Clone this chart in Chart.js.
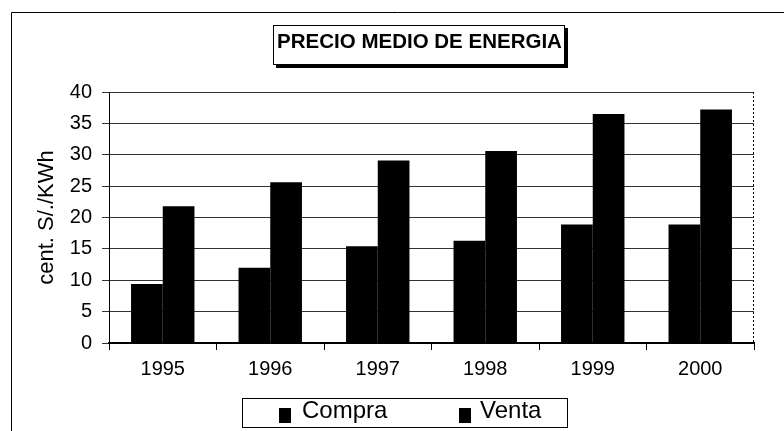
<!DOCTYPE html>
<html>
<head>
<meta charset="utf-8">
<script src="https://cdn.jsdelivr.net/npm/chart.js@4/dist/chart.umd.min.js"></script>
<style>
  html, body { margin: 0; padding: 0; background: #fff; }
  #wrap { width: 784px; height: 431px; }
</style>
</head>
<body>
<div id="wrap"><canvas id="c" width="784" height="431"></canvas></div>
<script>
const categories = ['1995', '1996', '1997', '1998', '1999', '2000'];
const compra = [9.4, 12.0, 15.4, 16.3, 18.9, 18.9];
const venta = [21.8, 25.6, 29.1, 30.6, 36.5, 37.2];
const seriesNames = ['Compra', 'Venta'];
const titleText = 'PRECIO MEDIO DE ENERGIA';
const yTitle = 'cent. S/./KWh';
const yMax = 40;
const yStep = 5;

const FONT = '"Liberation Sans", Arial, sans-serif';

const decor = {
  id: 'decor',
  afterDraw(chart) {
    const ctx = chart.ctx;
    const ca = chart.chartArea;
    ctx.save();
    // outer frame (top and left edges)
    ctx.strokeStyle = '#000';
    ctx.lineWidth = 1;
    ctx.beginPath();
    ctx.moveTo(11.5, 431);
    ctx.lineTo(11.5, 12.5);
    ctx.lineTo(784, 12.5);
    ctx.stroke();

    // right dotted border of plot area
    ctx.setLineDash([2, 2]);
    ctx.beginPath();
    ctx.moveTo(Math.round(ca.right) - 0.5, ca.top);
    ctx.lineTo(Math.round(ca.right) - 0.5, ca.bottom);
    ctx.stroke();
    ctx.setLineDash([]);

    // title box with shadow
    ctx.fillStyle = '#000';
    ctx.fillRect(276, 28, 292, 40);
    ctx.fillStyle = '#fff';
    ctx.fillRect(273, 25, 292, 40);
    ctx.strokeStyle = '#000';
    ctx.lineWidth = 1;
    ctx.strokeRect(273.5, 25.5, 291, 39);
    ctx.fillStyle = '#000';
    ctx.font = 'bold 20.5px ' + FONT;
    ctx.textAlign = 'center';
    ctx.textBaseline = 'alphabetic';
    ctx.fillText(titleText, 419.5, 48);

    // legend box
    ctx.fillStyle = '#fff';
    ctx.fillRect(242, 398, 326, 30);
    ctx.strokeStyle = '#000';
    ctx.strokeRect(242.5, 398.5, 325, 29);
    const ds = chart.data.datasets;
    const items = [
      { sq: 279, tx: 302 },
      { sq: 459, tx: 480 }
    ];
    ctx.font = '24px ' + FONT;
    ctx.textAlign = 'left';
    items.forEach((it, i) => {
      ctx.fillStyle = ds[i].backgroundColor;
      ctx.fillRect(it.sq, 408, 12, 15);
      ctx.fillStyle = '#000';
      ctx.fillText(ds[i].label, it.tx, 418);
    });
    ctx.restore();
  }
};

new Chart(document.getElementById('c'), {
  type: 'bar',
  data: {
    labels: categories,
    datasets: [
      { label: seriesNames[0], data: compra, backgroundColor: '#000', borderWidth: 0 },
      { label: seriesNames[1], data: venta, backgroundColor: '#000', borderWidth: 0 }
    ]
  },
  options: {
    responsive: false,
    animation: false,
    events: [],
    layout: { padding: { left: 11, right: 30, top: 92, bottom: 0 } },
    datasets: { bar: { categoryPercentage: 0.59, barPercentage: 1.0 } },
    plugins: { legend: { display: false }, title: { display: false }, tooltip: { enabled: false } },
    scales: {
      x: {
        afterFit(scale) { scale.height = 88; },
        grid: { display: true, drawOnChartArea: false, drawTicks: true, tickLength: 7, color: '#000', offset: true },
        border: { display: true, color: '#000', width: 2 },
        ticks: { color: '#000', font: { family: FONT, size: 20 }, padding: 7, maxRotation: 0 }
      },
      y: {
        min: 0, max: yMax,
        afterFit(scale) { scale.width = 98; },
        grid: { color: '#333', lineWidth: 1, tickLength: 7, drawTicks: true },
        border: { display: true, color: '#000', width: 1 },
        ticks: { stepSize: yStep, color: '#000', font: { family: FONT, size: 20 }, padding: 10 },
        title: { display: true, text: yTitle, color: '#000', font: { family: FONT, size: 22 }, padding: { top: 23, bottom: 0 } }
      }
    }
  },
  plugins: [decor]
});
</script>
</body>
</html>
